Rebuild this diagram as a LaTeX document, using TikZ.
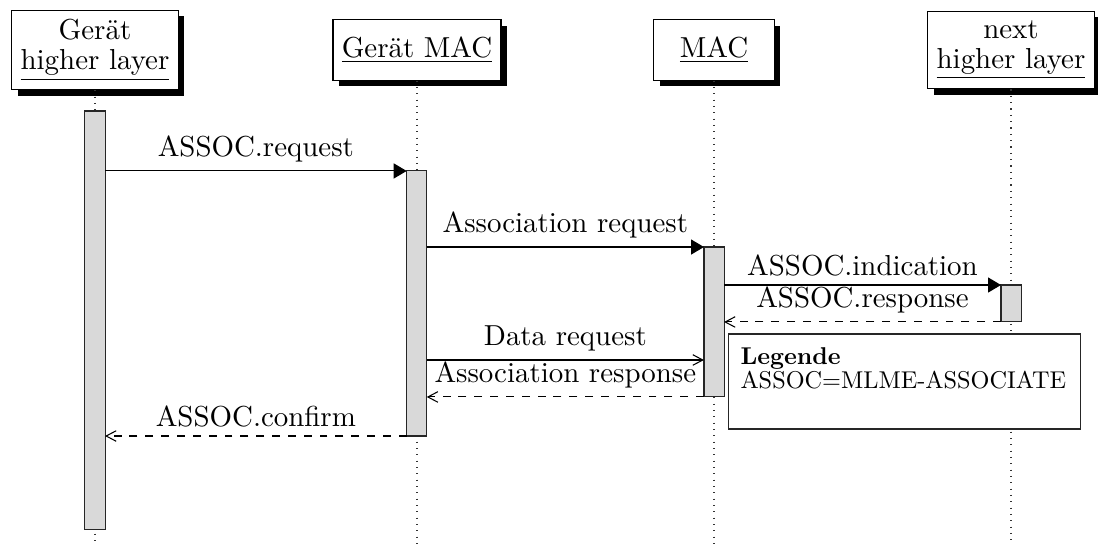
\documentclass[tikz,border=0pt]{standalone}
\usepackage{fontspec}
\usetikzlibrary{arrows.meta,shadows}

% legend text: 10pt design size, set slightly smaller
\newfontfamily\legendfont{lmroman10-regular}[Extension=.otf, BoldFont=lmroman10-bold]

\tikzset{
  inst/.style={draw=black, fill=white, thin, align=center,
    minimum width=1.6cm, minimum height=0.8cm,
    drop shadow={shadow xshift=2.3pt, shadow yshift=-2.3pt, fill=black, opacity=1}},
  inst2/.style={inst, minimum height=29.5pt, font=\fontsize{10.95}{11.4}\selectfont},
  lifeline/.style={dotted, thin, black!80},
  callbar/.style={draw=black!85, fill=gray!30, thin, inner sep=0pt, outer sep=0pt,
    minimum width=7.6pt},
  sync/.style={thin, -{Triangle[length=4.9pt,width=5.7pt]}},
  reply/.style={thin, dashed, -{Straight Barb[length=3.8pt,width=4pt]}},
  async/.style={thin, -{Straight Barb[length=3.8pt,width=4pt]}},
  msglabel/.style={midway, above},
  legendbox/.style={draw=black!85, fill=white, thin, minimum width=133pt, minimum height=36pt},
  legendtext/.style={anchor=base west, inner sep=0pt, font=\legendfont\fontsize{9.2}{11}\selectfont}
}

\begin{document}
\begin{tikzpicture}[x=0.3788pt, y=-0.3788pt, font=\fontsize{10.95}{13.6}\selectfont]
  \useasboundingbox (0,0) rectangle (1098,545);

  % lower end of all lifelines
  \coordinate (bottom) at (0,545);

  % participants
  \node[inst2] (h1) at (95,50)   {Gerät\\\underline{higher layer}};
  \node[inst]  (h2) at (417,50)  {\underline{Gerät MAC}};
  \node[inst]  (h3) at (714,50)  {\underline{MAC}};
  \node[inst2] (h4) at (1011,50) {next\\\underline{higher layer}};

  % lifelines
  \draw[lifeline] (h1.south) -- (h1.south |- bottom);
  \draw[lifeline] (h2.south) -- (h2.south |- bottom);
  \draw[lifeline] (h3.south) -- (h3.south |- bottom);
  \draw[lifeline] (h4.south) -- (h4.south |- bottom);

  % activation bars
  \node[callbar, minimum height=158.7pt] (b1) at (95,320.5)   {};
  \node[callbar, minimum height=100.4pt] (b2) at (416.7,303.5) {};
  \node[callbar, minimum height=56.8pt]  (b3) at (714,322)     {};
  \node[callbar, minimum height=14pt]    (b4) at (1011,303.5)  {};

  % message rows
  \coordinate (m5) at (0,360);

  \draw[sync]  (b1.east |- b2.north) -- (b2.north west) node[msglabel] {ASSOC.request};
  \draw[sync]  (b2.east |- b3.north) -- (b3.north west) node[msglabel] {Association request};
  \draw[sync]  (b3.east |- b4.north) -- (b4.north west) node[msglabel] {ASSOC.indication};
  \draw[reply] (b4.south west) -- (b3.east |- b4.south) node[msglabel] {ASSOC.response};
  \draw[async] (b2.east |- m5) -- (b3.west |- m5) node[msglabel] {Data request};
  \draw[reply] (b3.south west) -- (b2.east |- b3.south) node[msglabel] {Association response};
  \draw[reply] (b2.south west) -- (b1.east |- b2.south) node[msglabel] {ASSOC.confirm};

  % legend
  \node[legendbox] (legend) at (904.5,381.5) {};
  \node[legendtext] (lgtitle) at (740,364.5) {\textbf{Legende}};
  \node[legendtext] (lgentry) at (740,389) {ASSOC=MLME-ASSOCIATE};
\end{tikzpicture}
\end{document}
